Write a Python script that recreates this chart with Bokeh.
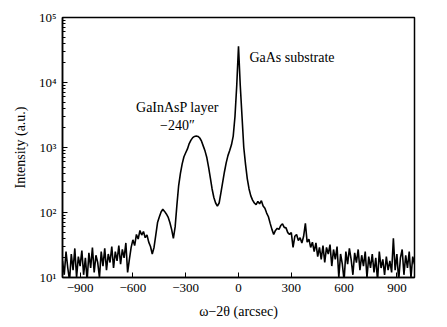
from bokeh.plotting import figure
from bokeh.models import FixedTicker, LogTicker, Label, Range1d
from bokeh.embed import file_html
from bokeh.resources import INLINE

# omega-2theta positions (arcsec), 10 arcsec step
omega = list(range(-1000, 1001, 10))

intensity = [
    18, 11, 25, 14, 9, 23, 13, 28, 10, 21,            # -1000 .. -910
    15, 26, 11, 20, 9, 24, 14, 29, 12, 22,            # -900 .. -810
    17, 10, 25, 15, 28, 13, 23, 17, 30, 14,           # -800 .. -710
    25, 18, 31, 16, 27, 20, 34, 12, 19, 29,           # -700 .. -610
    38, 31, 46, 39, 53, 45, 51, 41, 45, 35,           # -600 .. -510
    30, 23, 29, 45, 70, 85, 102, 112, 104, 95,        # -500 .. -410
    85, 70, 55, 40, 60, 130, 260, 400, 560, 720,      # -400 .. -310
    830, 950, 1150, 1300, 1420, 1480, 1500, 1480, 1400, 1250,  # -300 .. -210
    1050, 880, 700, 500, 340, 230, 170, 140, 125, 140,         # -200 .. -110
    200, 290, 420, 580, 750, 900, 1100, 1500, 3000, 9000,      # -100 .. -10
    36000, 9000, 3000, 1000, 550, 330, 230, 180, 155, 140,     # 0 .. 90
    132, 148, 136, 152, 126, 116, 98, 86, 68, 55,     # 100 .. 190
    46, 53, 57, 55, 63, 67, 59, 58, 49, 46,           # 200 .. 290
    49, 29, 43, 46, 37, 41, 34, 43, 68, 35,           # 300 .. 390
    39, 29, 35, 25, 34, 21, 29, 19, 31, 17,           # 400 .. 490
    29, 23, 32, 15, 27, 19, 30, 10, 23, 16,           # 500 .. 590
    9, 25, 16, 28, 19, 11, 24, 17, 27, 13,            # 600 .. 690
    22, 15, 25, 10, 21, 14, 23, 12, 20, 9,            # 700 .. 790
    25, 14, 19, 11, 21, 13, 18, 12, 40, 13,           # 800 .. 890
    23, 9, 20, 27, 11, 22, 14, 25, 10, 21,            # 900 .. 990
    16,                                               # 1000
]

x_ticks = [-900, -600, -300, 0, 300, 600, 900]
x_tick_labels = ["\u2212900", "\u2212600", "\u2212300", "0", "300", "600", "900"]
y_ticks = [10, 100, 1000, 10000, 100000]
y_tick_labels = ["10\u00b9", "10\u00b2", "10\u00b3", "10\u2074", "10\u2075"]

FONT = "Liberation Serif"

p = figure(width=447, height=327, y_axis_type="log",
           x_range=Range1d(-1000, 1000), y_range=Range1d(10, 100000),
           output_backend="svg", toolbar_location=None,
           min_border_left=62, min_border_right=33,
           min_border_top=17, min_border_bottom=50)

p.line(omega, intensity, line_color="black", line_width=1.6)

p.grid.visible = False
p.outline_line_color = "black"
p.outline_line_width = 1.5
p.background_fill_color = "white"
p.border_fill_color = "white"

for ax in (p.xaxis[0], p.yaxis[0]):
    ax.major_tick_in = 5
    ax.major_tick_out = 0
    ax.minor_tick_out = 0
    ax.axis_line_width = 1.5
    ax.axis_line_color = "black"
    ax.major_tick_line_color = "black"
    ax.minor_tick_line_color = "black"
    ax.major_label_text_font = FONT
    ax.major_label_text_font_size = "13px"
    ax.major_label_text_color = "black"
    ax.axis_label_text_font = FONT
    ax.axis_label_text_font_style = "normal"
    ax.axis_label_text_font_size = "14px"
    ax.axis_label_text_color = "black"

xa = p.xaxis[0]
xa.ticker = FixedTicker(ticks=x_ticks)
xa.major_label_overrides = {t: l for t, l in zip(x_ticks, x_tick_labels)}
xa.minor_tick_in = 0
xa.major_label_standoff = 6
xa.axis_label = "\u03c9\u22122\u03b8 (arcsec)"
xa.axis_label_standoff = 9

ya = p.yaxis[0]
ya.ticker = LogTicker(desired_num_ticks=5, num_minor_ticks=10)
ya.major_label_overrides = {t: l for t, l in zip(y_ticks, y_tick_labels)}
ya.minor_tick_in = 3
ya.major_label_standoff = 6
ya.axis_label = "Intensity (a.u.)"
ya.axis_label_standoff = 8

for txt, xx, yy, align in [("GaAs substrate", 62, 24300, "left"),
                           ("GaInAsP layer", -347, 4120, "center"),
                           ("\u2212240\u2033", -347, 2190, "center")]:
    p.add_layout(Label(x=xx, y=yy, text=txt, text_font=FONT, text_color="black",
                       text_font_size="14px", text_baseline="middle", text_align=align))

open("out.html", "w").write(file_html(p, INLINE))
